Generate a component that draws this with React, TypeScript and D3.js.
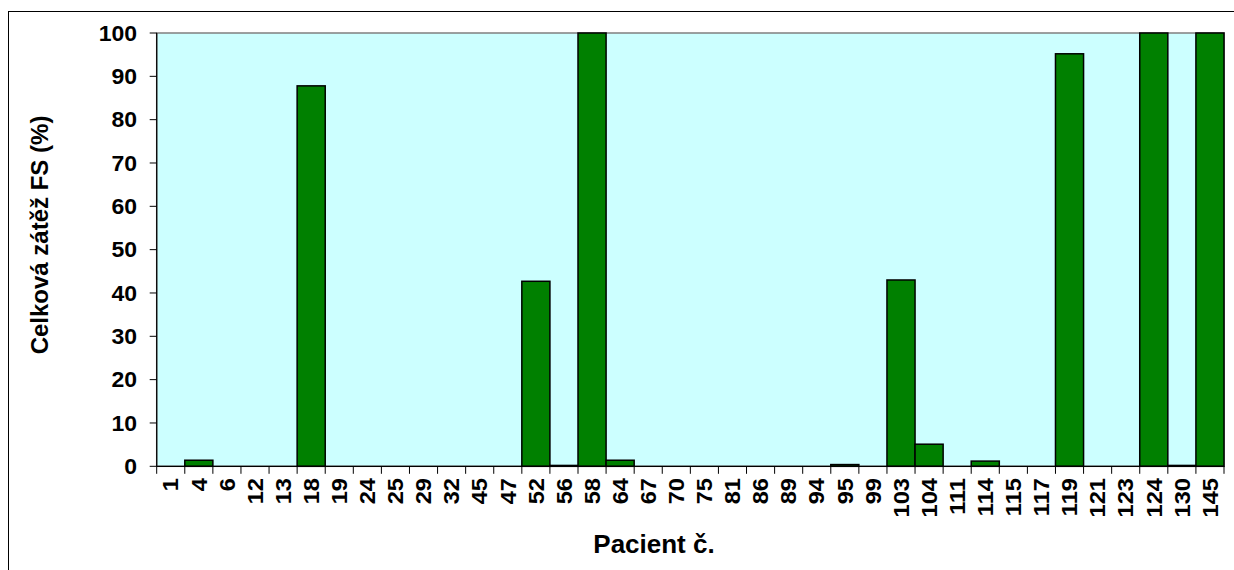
import React, { useEffect, useRef } from "react";
import * as d3 from "d3";

// Patient IDs along the x axis
const patients: string[] = [
  "1", "4", "6", "12", "13", "18", "19", "24", "25", "29", "32", "45", "47",
  "52", "56", "58", "64", "67", "70", "75", "81", "86", "89", "94", "95", "99",
  "103", "104", "111", "114", "115", "117", "119", "121", "123", "124", "130", "145",
];

// Total FS burden (%) for each patient, same order as above
const burden: number[] = [
  0, 1.4, 0, 0, 0, 87.8, 0, 0, 0, 0, 0, 0, 0,
  42.7, 0.2, 100, 1.4, 0, 0, 0, 0, 0, 0, 0, 0.4, 0,
  43.0, 5.1, 0, 1.2, 0, 0, 95.2, 0, 0, 100, 0.2, 100,
];

const yTicks: number[] = [0, 10, 20, 30, 40, 50, 60, 70, 80, 90, 100];

const yTitle = "Celková zátěž FS (%)";
const xTitle = "Pacient č.";

const W = 1234;
const H = 570;
const FONT = "'Liberation Sans', Arial, sans-serif";

export default function App() {
  const ref = useRef<SVGSVGElement | null>(null);

  useEffect(() => {
    const svg = d3.select(ref.current);
    svg.selectAll("*").remove();

    const left = 156.7;
    const right = 1224;
    const top = 33;
    const bottom = 466.3;

    const x = d3.scaleBand<string>().domain(patients).range([left, right]).padding(0);
    const y = d3.scaleLinear().domain([0, 100]).range([bottom, top]);

    // outer chart frame
    svg.append("rect")
      .attr("x", 8.5).attr("y", 11.5)
      .attr("width", 1300).attr("height", 700)
      .attr("fill", "white").attr("stroke", "black").attr("stroke-width", 1);

    // plot area
    svg.append("rect")
      .attr("x", left).attr("y", top)
      .attr("width", right - left).attr("height", bottom - top)
      .attr("fill", "#CCFFFF").attr("stroke", "#808080").attr("stroke-width", 1.5);

    // bars
    const data = patients.map((p, i) => ({ p, v: burden[i] })).filter((d) => d.v > 0);
    svg.append("g").selectAll("rect")
      .data(data)
      .join("rect")
      .attr("x", (d) => x(d.p)!)
      .attr("y", (d) => y(d.v))
      .attr("width", x.bandwidth())
      .attr("height", (d) => y(0) - y(d.v))
      .attr("fill", "#008000")
      .attr("stroke", "black")
      .attr("stroke-width", 1.5);

    // y axis
    const gy = svg.append("g");
    gy.append("line")
      .attr("x1", left).attr("x2", left).attr("y1", top).attr("y2", bottom)
      .attr("stroke", "black").attr("stroke-width", 1.2);
    yTicks.forEach((t) => {
      gy.append("line")
        .attr("x1", left - 7).attr("x2", left).attr("y1", y(t)).attr("y2", y(t))
        .attr("stroke", "black").attr("stroke-width", 1);
      gy.append("text")
        .attr("transform", `translate(137,${y(t)}) scale(1.07,1)`)
        .attr("dy", "0.36em")
        .attr("text-anchor", "end")
        .attr("font-family", FONT).attr("font-weight", "bold").attr("font-size", 21.5)
        .text(String(t));
    });

    // x axis
    const gx = svg.append("g");
    gx.append("line")
      .attr("x1", left).attr("x2", right).attr("y1", bottom).attr("y2", bottom)
      .attr("stroke", "black").attr("stroke-width", 1.2);
    const edges = patients.map((p) => x(p)!).concat([right]);
    edges.forEach((ex) => {
      gx.append("line")
        .attr("x1", ex).attr("x2", ex).attr("y1", bottom).attr("y2", bottom + 7.5)
        .attr("stroke", "black").attr("stroke-width", 1);
    });
    patients.forEach((p) => {
      const cx = x(p)! + x.bandwidth() / 2;
      gx.append("text")
        .attr("transform", `translate(${cx},478) rotate(-90) scale(1.1,1)`)
        .attr("dy", "0.36em")
        .attr("text-anchor", "end")
        .attr("font-family", FONT).attr("font-weight", "bold").attr("font-size", 21.5)
        .text(p);
    });

    // axis titles
    svg.append("text")
      .attr("x", 654).attr("y", 553)
      .attr("text-anchor", "middle")
      .attr("font-family", FONT).attr("font-weight", "bold").attr("font-size", 26)
      .text(xTitle);

    svg.append("text")
      .attr("transform", "translate(48,235) rotate(-90)")
      .attr("text-anchor", "middle")
      .attr("font-family", FONT).attr("font-weight", "bold").attr("font-size", 24)
      .text(yTitle);
  }, []);

  return (
    <svg
      ref={ref}
      width={W}
      height={H}
      style={{ position: "absolute", left: 0, top: 0, display: "block" }}
    />
  );
}
